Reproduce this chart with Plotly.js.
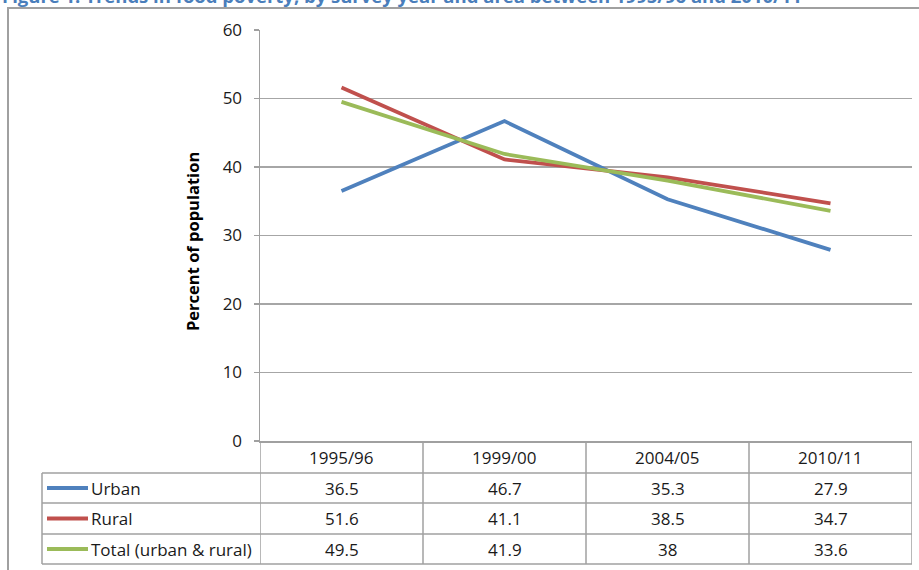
<!DOCTYPE html>
<html><head><meta charset="utf-8">
<script src="https://cdn.plot.ly/plotly-3.0.1.min.js"></script>
<style>html,body{margin:0;padding:0;background:#fff;}#chart{width:919px;height:570px;}</style>
</head><body><div id="chart"></div>
<script>
const categories = ['1995/96', '1999/00', '2004/05', '2010/11'];
const urban = [36.5, 46.7, 35.3, 27.9];
const rural = [51.6, 41.1, 38.5, 34.7];
const total = [49.5, 41.9, 38, 33.6];
const seriesNames = ['Urban', 'Rural', 'Total (urban & rural)'];
const yTicks = [0, 10, 20, 30, 40, 50, 60];
const titleText = 'Figure 1: Trends in food poverty, by survey year and area between 1995/96 and 2010/11';
const yTitle = 'Percent of population';

const seriesValues = [urban, rural, total];
const colors = ['#4F81BD', '#C0504D', '#9BBB59'];

const W = 919, H = 570, L = 260, R = 7, T = 30, B = 129;
const pw = W - L - R, ph = H - T - B;
const px = x => (x - L) / pw;
const py = y => (H - B - y) / ph;

const FONT = 'Open Sans, Liberation Sans, sans-serif';
const textColor = '#1a1a1a';
const gridColor = '#a6a6a6';
const borderColor = '#a0a0a0';

const traces = seriesValues.map((vals, i) => ({
  type: 'scatter', mode: 'lines', x: categories, y: vals, name: seriesNames[i],
  line: {color: colors[i], width: 3.8}, showlegend: false, hoverinfo: 'skip'
}));

// table geometry (pixels)
const rowEdges = [441, 473, 503, 534, 564];
const legendLeft = 42;
const shapes = [];
// outer frame
shapes.push({type: 'rect', xref: 'paper', yref: 'paper', x0: px(8), x1: px(930), y0: py(8), y1: py(580),
  line: {color: borderColor, width: 2}, layer: 'below'});
// horizontal table lines
for (let r = 1; r < rowEdges.length; r++) {
  shapes.push({type: 'line', xref: 'paper', yref: 'paper', x0: px(legendLeft), x1: 1, y0: py(rowEdges[r]), y1: py(rowEdges[r]),
    line: {color: borderColor, width: 1.5}});
}
// vertical column boundaries
for (let c = 0; c <= categories.length; c++) {
  shapes.push({type: 'line', xref: 'x', yref: 'paper', x0: c - 0.5, x1: c - 0.5, y0: py(rowEdges[0]), y1: py(rowEdges[4]),
    line: {color: borderColor, width: 1.5}});
}
// legend column left edge
shapes.push({type: 'line', xref: 'paper', yref: 'paper', x0: px(legendLeft), x1: px(legendLeft), y0: py(rowEdges[1]), y1: py(rowEdges[4]),
  line: {color: borderColor, width: 1.5}});

const annotations = [];
// title (cut at top, as in the source image)
annotations.push({xref: 'paper', yref: 'paper', x: px(0), y: py(10), xanchor: 'left', yanchor: 'bottom',
  text: '<b>' + titleText + '</b>', showarrow: false, font: {family: FONT, size: 18.5, color: '#4a7ebb'}});
// header row
categories.forEach((c, i) => {
  annotations.push({xref: 'x', yref: 'paper', x: i, y: py((rowEdges[0] + rowEdges[1]) / 2), text: c,
    showarrow: false, xanchor: 'center', yanchor: 'middle', font: {family: FONT, size: 17, color: textColor}});
});
// data rows
seriesValues.forEach((vals, r) => {
  const yc = py((rowEdges[r + 1] + rowEdges[r + 2]) / 2);
  vals.forEach((v, i) => {
    annotations.push({xref: 'x', yref: 'paper', x: i, y: yc, text: String(v),
      showarrow: false, xanchor: 'center', yanchor: 'middle', font: {family: FONT, size: 17, color: textColor}});
  });
  annotations.push({xref: 'paper', yref: 'paper', x: px(89), y: yc, text: seriesNames[r],
    showarrow: false, xanchor: 'left', yanchor: 'middle', font: {family: FONT, size: 17, color: textColor}});
  shapes.push({type: 'line', xref: 'paper', yref: 'paper', x0: px(47), x1: px(88), y0: yc, y1: yc,
    line: {color: colors[r], width: 3.8}});
});
// y title
annotations.push({xref: 'paper', yref: 'paper', x: px(192), y: py(242), text: '<b>' + yTitle + '</b>', textangle: -90,
  showarrow: false, xanchor: 'center', yanchor: 'middle', font: {family: FONT, size: 16.5, color: '#000'}});

const layout = {
  width: W, height: H, margin: {l: L, r: R, t: T, b: B},
  paper_bgcolor: '#fff', plot_bgcolor: '#fff',
  xaxis: {type: 'category', range: [-0.5, categories.length - 0.5], showticklabels: false, ticks: '',
    showgrid: false, zeroline: false, showline: true, linecolor: borderColor, linewidth: 1.5, fixedrange: true},
  yaxis: {range: [0, 60], tickvals: yTicks, ticktext: yTicks.map(String), ticks: 'outside', ticklen: 5,
    tickcolor: borderColor, tickwidth: 1.5, showline: true, linecolor: borderColor, linewidth: 1.5,
    showgrid: true, gridcolor: gridColor, gridwidth: 1.5, zeroline: false, ticklabelstandoff: 8,
    tickfont: {family: FONT, size: 17, color: textColor}, fixedrange: true},
  shapes: shapes, annotations: annotations, showlegend: false
};
Plotly.newPlot('chart', traces, layout, {staticPlot: true, displayModeBar: false});
</script></body></html>
